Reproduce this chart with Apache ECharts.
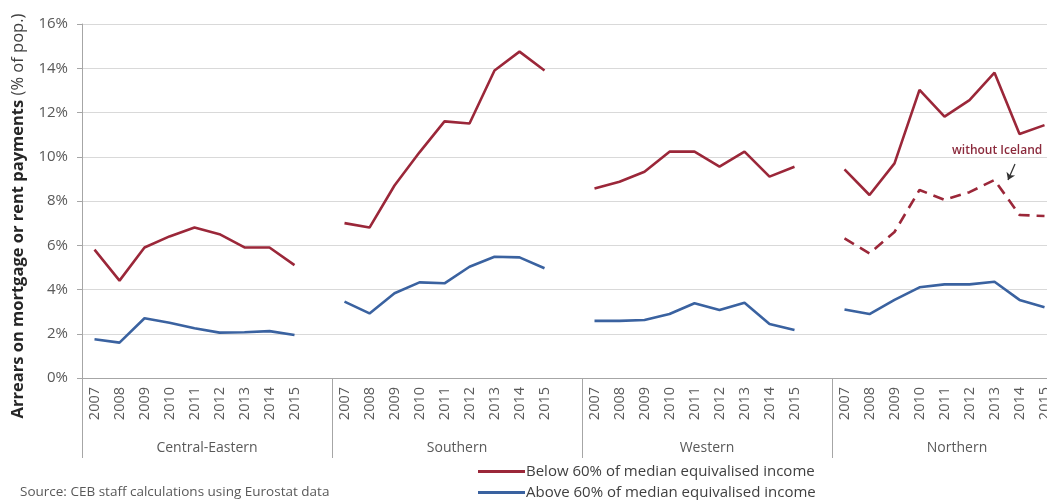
<!DOCTYPE html>
<html>
<head>
<meta charset="utf-8">
<script src="https://cdn.jsdelivr.net/npm/echarts@6/dist/echarts.min.js"></script>
<style>html,body{margin:0;padding:0;background:#fff;overflow:hidden;width:1047px;height:500px}#c{width:1100px;height:500px}</style>
</head>
<body>
<div id="c"></div>
<script>
const years = ['2007','2008','2009','2010','2011','2012','2013','2014','2015'];
const regions = ['Central-Eastern','Southern','Western','Northern'];
const yTicks = [0,2,4,6,8,10,12,14,16];

const belowCE = [5.8, 4.4, 5.9, 6.4, 6.8, 6.5, 5.9, 5.9, 5.1];
const belowS  = [7.0, 6.8, 8.7, 10.2, 11.6, 11.5, 13.9, 14.75, 13.9];
const belowW  = [8.57, 8.87, 9.32, 10.23, 10.23, 9.55, 10.23, 9.1, 9.55];
const belowN  = [9.43, 8.27, 9.7, 13.02, 11.81, 12.56, 13.8, 11.03, 11.43];
const belowNnoIceland = [6.31, 5.63, 6.6, 8.5, 8.05, 8.4, 8.95, 7.37, 7.32];

const aboveCE = [1.75, 1.6, 2.7, 2.5, 2.25, 2.05, 2.07, 2.12, 1.94];
const aboveS  = [3.45, 2.92, 3.83, 4.32, 4.28, 5.03, 5.48, 5.45, 4.96];
const aboveW  = [2.58, 2.58, 2.62, 2.89, 3.38, 3.07, 3.4, 2.44, 2.17];
const aboveN  = [3.1, 2.89, 3.53, 4.1, 4.23, 4.23, 4.35, 3.53, 3.2];

const seriesNames = ['Below 60% of median equivalised income','Above 60% of median equivalised income'];
const noteText = 'without Iceland';
const sourceText = 'Source: CEB staff calculations using Eurostat data';

// build categories: 9 years + 1 gap slot per region
const categories = [];
regions.forEach(r => { years.forEach(y => categories.push(r + '|' + y)); categories.push(r + '|'); });

function build(groups) {
  const out = [];
  groups.forEach(g => { (g || years.map(() => null)).forEach(v => out.push(v)); out.push(null); });
  return out;
}

const red = '#9b2739';
const blue = '#3a62a0';
const FONT = 'Open Sans';

const legendBase = {
  left: 478, padding: 0, icon: 'rect',
  itemWidth: 47, itemHeight: 3,
  textStyle: {fontFamily: FONT, fontSize: 15, color: '#404040', padding: [0, 0, 0, -4]}
};

const chart = echarts.init(document.getElementById('c'), null, {renderer: 'canvas'});
chart.setOption({
  animation: false,
  textStyle: {fontFamily: FONT},
  grid: {left: 82, right: 18, top: 24, bottom: 122, containLabel: false},
  xAxis: [{
    type: 'category',
    data: categories,
    boundaryGap: true,
    axisLine: {show: true, lineStyle: {color: '#a6a6a6', width: 1}},
    axisTick: {show: false},
    axisLabel: {
      interval: 0, rotate: 90, margin: 9,
      fontFamily: FONT, fontSize: 14.5, color: '#595959',
      formatter: v => v.split('|')[1]
    }
  }, {
    type: 'category',
    data: regions,
    position: 'bottom',
    boundaryGap: true,
    axisLine: {show: false},
    axisTick: {show: true, interval: 0, length: 80, lineStyle: {color: '#a6a6a6', width: 1}},
    axisLabel: {interval: 0, margin: 63, fontFamily: FONT, fontSize: 14, color: '#595959'}
  }],
  yAxis: {
    type: 'value',
    min: yTicks[0], max: yTicks[yTicks.length - 1], interval: 2,
    axisLine: {show: true, lineStyle: {color: '#a6a6a6'}},
    axisTick: {show: true, length: 5, lineStyle: {color: '#a6a6a6'}},
    splitLine: {lineStyle: {color: '#d9d9d9', width: 1}},
    axisLabel: {formatter: '{value}%', fontFamily: FONT, fontSize: 15, color: '#595959', margin: 14},
    name: '{b|Arrears on mortgage or rent payments}{n| (% of pop.)}',
    nameLocation: 'middle',
    nameGap: 55,
    nameTextStyle: {
      padding: [0, 30, 0, 0],
      rich: {
        b: {fontFamily: FONT, fontSize: 16.5, fontWeight: 'bold', color: '#262626'},
        n: {fontFamily: FONT, fontSize: 16.5, color: '#404040'}
      }
    }
  },
  legend: [
    Object.assign({}, legendBase, {top: 464, data: [seriesNames[0]]}),
    Object.assign({}, legendBase, {top: 485, data: [seriesNames[1]]})
  ],
  series: [{
    name: seriesNames[0], type: 'line', symbol: 'none',
    data: build([belowCE, belowS, belowW, belowN]),
    lineStyle: {color: red, width: 2.6}, itemStyle: {color: red}
  }, {
    name: seriesNames[1], type: 'line', symbol: 'none',
    data: build([aboveCE, aboveS, aboveW, aboveN]),
    lineStyle: {color: blue, width: 2.6}, itemStyle: {color: blue}
  }, {
    name: 'noIceland', type: 'line', symbol: 'none',
    data: build([null, null, null, belowNnoIceland]),
    lineStyle: {color: red, width: 2.6, type: [11, 7]}, itemStyle: {color: red},
    markLine: {
      silent: true, symbol: ['none', 'arrow'], symbolSize: 7,
      lineStyle: {type: 'solid', color: '#333', width: 1.2},
      label: {show: false},
      data: [[{x: 1015, y: 164}, {x: 1008, y: 180}]]
    }
  }],
  graphic: [{
    type: 'text', left: 952, top: 145,
    style: {text: noteText, font: '600 12px "Open Sans"', fill: '#8b2a3c'}
  }, {
    type: 'text', left: 20, top: 485,
    style: {text: sourceText, font: '13.5px "Open Sans"', fill: '#595959'}
  }]
});
</script>
</body>
</html>
